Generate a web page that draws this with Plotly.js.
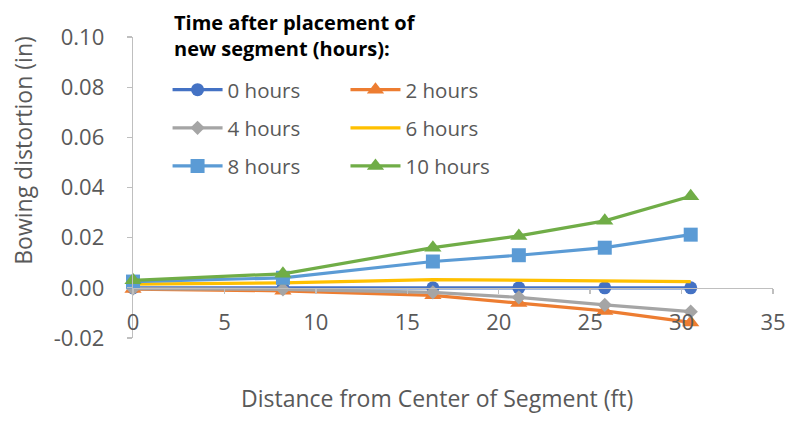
<!DOCTYPE html>
<html>
<head>
<meta charset="utf-8">
<script src="https://cdn.plot.ly/plotly-3.0.1.min.js"></script>
<style>html,body{margin:0;padding:0;background:#fff;}#chart{width:791px;height:423px;}</style>
</head>
<body>
<div id="chart"></div>
<script>
const distance = [0, 8.2, 16.4, 21.1, 25.8, 30.5];
const hours0 = [0, 0, 0, 0, 0, 0];
const hours2 = [-0.0005, -0.0012, -0.0030, -0.0060, -0.0092, -0.0138];
const hours4 = [-0.0003, -0.0006, -0.0018, -0.0038, -0.0068, -0.0095];
const hours6 = [0.0015, 0.0020, 0.0033, 0.0030, 0.0025, 0.0025];
const hours8 = [0.0025, 0.0040, 0.0105, 0.0130, 0.0160, 0.0212];
const hours10 = [0.0030, 0.0056, 0.0160, 0.0207, 0.0267, 0.0365];
const seriesNames = ['0 hours', '2 hours', '4 hours', '6 hours', '8 hours', '10 hours'];
const xTickVals = [0, 5, 10, 15, 20, 25, 30, 35];
const yTickVals = [-0.02, 0, 0.02, 0.04, 0.06, 0.08, 0.10];
const legendTitle = 'Time after placement of<br>new segment (hours):';
const xTitle = 'Distance from Center of Segment (ft)';
const yTitle = 'Bowing distortion (in)';

const colors = ['#4472C4', '#ED7D31', '#A5A5A5', '#FFC000', '#5B9BD5', '#70AD47'];
const symbols = ['circle', 'triangle-up', 'diamond', null, 'square', 'triangle-up'];
const sizes = [13, 15, 11, 0, 14, 15];
const legends = ['legend', 'legend2', 'legend', 'legend2', 'legend', 'legend2'];
const ys = [hours0, hours2, hours4, hours6, hours8, hours10];

const traces = ys.map((y, i) => {
  const t = {
    x: distance, y: y, name: seriesNames[i], type: 'scatter',
    mode: symbols[i] ? 'lines+markers' : 'lines',
    line: {color: colors[i], width: 3.2},
    legend: legends[i], legendgroup: 'g' + i, cliponaxis: false
  };
  if (symbols[i]) t.marker = {symbol: symbols[i], size: sizes[i], color: colors[i]};
  return t;
});

const axisFont = {family: 'Open Sans, sans-serif', size: 22, color: '#595959'};
const legFont = {family: 'Open Sans, sans-serif', size: 20.5, color: '#595959'};
const titleFont = {family: 'Open Sans, sans-serif', size: 23, color: '#595959'};

const layout = {
  width: 791, height: 423,
  margin: {l: 133, r: 18, t: 37, b: 85},
  paper_bgcolor: '#ffffff', plot_bgcolor: '#ffffff',
  showlegend: true,
  xaxis: {
    range: [0, 35], tickvals: xTickVals, ticktext: xTickVals.map(String),
    anchor: 'free', position: 1/6,
    showline: true, linecolor: '#BFBFBF', linewidth: 1.3,
    ticks: 'outside', ticklen: 5, tickcolor: '#BFBFBF', tickwidth: 1.3,
    showgrid: false, zeroline: false, tickfont: axisFont, ticklabelstandoff: 9
  },
  yaxis: {
    range: [-0.02, 0.10], tickvals: yTickVals, ticktext: yTickVals.map(v => v.toFixed(2)),
    showline: true, linecolor: '#BFBFBF', linewidth: 1.3,
    ticks: 'outside', ticklen: 5, tickcolor: '#BFBFBF', tickwidth: 1.3,
    showgrid: false, zeroline: false, tickfont: axisFont, ticklabelstandoff: 18
  },
  legend: {
    x: 0.054, y: 0.891, xanchor: 'left', yanchor: 'top',
    bgcolor: 'rgba(0,0,0,0)', font: legFont, itemwidth: 50,
    tracegroupgap: 8.5, traceorder: 'grouped'
  },
  legend2: {
    x: 0.332, y: 0.891, xanchor: 'left', yanchor: 'top',
    bgcolor: 'rgba(0,0,0,0)', font: legFont, itemwidth: 50,
    tracegroupgap: 8.5, traceorder: 'grouped'
  },
  annotations: [{
    text: legendTitle, xref: 'paper', yref: 'paper',
    x: 0.061, y: 1.1, xanchor: 'left', yanchor: 'top', align: 'left',
    showarrow: false, font: {family: 'Open Sans, sans-serif', size: 20, color: '#000000', weight: 'bold'}
  }, {
    text: xTitle, xref: 'paper', yref: 'paper',
    x: 0.475, y: -0.199, xanchor: 'center', yanchor: 'middle',
    showarrow: false, font: titleFont
  }, {
    text: yTitle, xref: 'paper', yref: 'paper', textangle: -90,
    x: -0.172, y: 0.625, xanchor: 'center', yanchor: 'middle',
    showarrow: false, font: titleFont
  }]
};

Plotly.newPlot('chart', traces, layout, {displayModeBar: false, staticPlot: true});
</script>
</body>
</html>
